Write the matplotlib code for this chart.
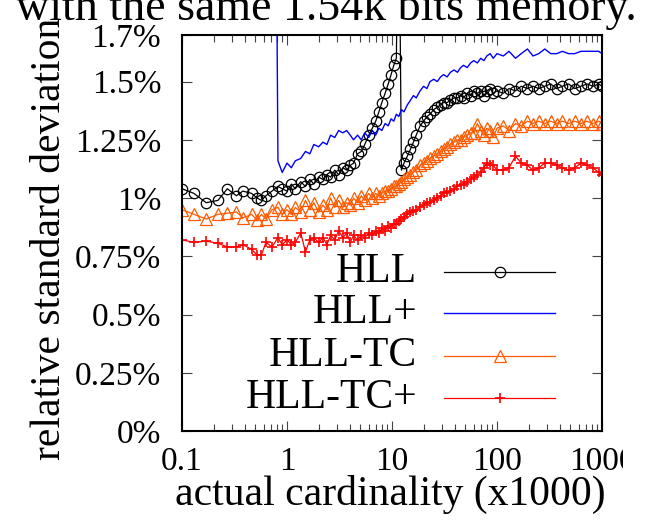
import matplotlib
matplotlib.use("Agg")
import matplotlib.pyplot as plt
from matplotlib.transforms import Bbox, TransformedBbox

plt.rcParams["font.family"] = ["Liberation Serif", "DejaVu Serif"]

# actual cardinality, in thousands
cardinality = [
    0.10, 0.13, 0.17, 0.22, 0.27, 0.33, 0.38, 0.46, 0.52, 0.57, 0.63, 0.72, 0.82, 0.90,
    1.0, 1.1, 1.2, 1.35, 1.5, 1.65, 1.8, 2.0, 2.2, 2.4, 2.6, 2.85, 3.1, 3.4, 3.7,
    4.0, 4.3, 4.7, 5.1, 5.5, 6.0, 6.5, 7.0, 7.5, 8.0, 8.6, 9.2, 9.8, 10.4, 11.0,
    11.6, 12.3, 13, 14, 15, 16, 17, 18.5, 20, 21.5, 23, 25, 27, 29, 31, 33.5, 36,
    39, 42, 45, 48, 52, 56, 60, 65, 70, 75, 80, 86, 92, 100,
    115, 130, 150, 170, 195, 220, 250, 285, 325, 370, 420, 480, 550, 630, 720,
    820, 930, 1000,
]

# relative standard deviation, in percent
hll = [
    1.04, 1.02, 0.98, 0.99, 1.04, 1.01, 1.03, 1.02, 1.00, 0.99, 1.01, 1.03, 1.05, 1.04,
    1.03, 1.06, 1.04, 1.07, 1.05, 1.08, 1.06, 1.09, 1.08, 1.10, 1.09, 1.12, 1.10, 1.13, 1.12,
    1.14, 1.15, 1.19, 1.20, 1.23, 1.27, 1.30, 1.33, 1.37, 1.41, 1.45, 1.49, 1.53, 1.57, 1.60,
    2.40, 1.12, 1.15, 1.18, 1.21, 1.24, 1.27, 1.31, 1.33, 1.35, 1.36, 1.38, 1.39, 1.40, 1.41, 1.41, 1.42,
    1.43, 1.43, 1.44, 1.43, 1.45, 1.44, 1.46, 1.45, 1.46, 1.44, 1.46, 1.47, 1.45, 1.46,
    1.45, 1.47, 1.46, 1.48, 1.47, 1.48, 1.47, 1.48, 1.49, 1.47, 1.48, 1.49, 1.47, 1.48, 1.49,
    1.48, 1.49, 1.48,
]

hll_plus = [
    9.8, 9.1, 8.6, 8.0, 7.5, 7.1, 6.6, 6.2, 5.8, 5.5, 5.1, 4.8, 1.16, 1.11,
    1.15, 1.13, 1.16, 1.17, 1.20, 1.19, 1.23, 1.22, 1.24, 1.23, 1.27, 1.26, 1.29, 1.28, 1.29,
    1.27, 1.25, 1.27, 1.25, 1.28, 1.26, 1.29, 1.27, 1.30, 1.29, 1.32, 1.31, 1.34, 1.33, 1.36,
    1.35, 1.38, 1.37, 1.40, 1.42, 1.44, 1.43, 1.46, 1.48, 1.47, 1.50, 1.51, 1.50, 1.52, 1.53, 1.52, 1.54,
    1.55, 1.54, 1.56, 1.57, 1.56, 1.58, 1.59, 1.58, 1.60, 1.59, 1.61, 1.62, 1.60, 1.62,
    1.61, 1.63, 1.60, 1.62, 1.64, 1.61, 1.62, 1.64, 1.62, 1.62, 1.63, 1.62, 1.62, 1.63, 1.63,
    1.63, 1.63, 1.62,
]

hll_tc = [
    0.95, 0.93, 0.91, 0.93, 0.935, 0.94, 0.915, 0.93, 0.905, 0.93, 0.91, 0.95, 0.96, 0.93,
    0.95, 0.93, 0.96, 0.94, 0.99, 0.95, 0.98, 0.94, 0.97, 0.95, 1.00, 0.96, 0.99, 0.96, 0.98,
    0.97, 1.00, 0.98, 1.01, 0.99, 1.02, 1.00, 1.02, 1.01, 1.02, 1.03, 1.03, 1.04, 1.05, 1.05,
    1.06, 1.07, 1.08, 1.09, 1.10, 1.11, 1.12, 1.14, 1.15, 1.16, 1.17, 1.18, 1.19, 1.20, 1.21, 1.22, 1.23,
    1.24, 1.25, 1.25, 1.26, 1.27, 1.28, 1.28, 1.32, 1.29, 1.27, 1.30, 1.29, 1.26, 1.30,
    1.31, 1.29, 1.32, 1.31, 1.33, 1.32, 1.33, 1.32, 1.33, 1.32, 1.33, 1.32, 1.33, 1.32, 1.33,
    1.32, 1.33, 1.32,
]

hll_tc_plus = [
    0.82, 0.81, 0.815, 0.806, 0.79, 0.79, 0.80, 0.78, 0.755, 0.755, 0.81, 0.79, 0.83, 0.80,
    0.82, 0.80, 0.81, 0.85, 0.77, 0.82, 0.83, 0.81, 0.83, 0.80, 0.84, 0.82, 0.86, 0.83, 0.85,
    0.81, 0.84, 0.82, 0.84, 0.83, 0.85, 0.84, 0.86, 0.85, 0.87, 0.86, 0.88, 0.87, 0.89, 0.89,
    0.90, 0.91, 0.92, 0.93, 0.94, 0.945, 0.95, 0.96, 0.97, 0.98, 0.985, 0.99, 1.00, 1.01, 1.02, 1.025, 1.03,
    1.04, 1.05, 1.055, 1.06, 1.07, 1.08, 1.09, 1.10, 1.11, 1.13, 1.15, 1.14, 1.14, 1.12,
    1.12, 1.13, 1.18, 1.15, 1.14, 1.12, 1.13, 1.15, 1.15, 1.14, 1.13, 1.12, 1.13, 1.15, 1.14,
    1.13, 1.11, 1.10,
]

series_names = ["HLL", "HLL+", "HLL-TC", "HLL-TC+"]
x_ticks = [0.1, 1, 10, 100, 1000]
x_tick_labels = ["0.1", "1", "10", "100", "1000"]
y_ticks = [0, 0.25, 0.5, 0.75, 1, 1.25, 1.5, 1.7]
y_tick_labels = ["0%", "0.25%", "0.5%", "0.75%", "1%", "1.25%", "1.5%", "1.7%"]

styles = [
    dict(color="black", marker="o", ms=7.5, mfc="none", mew=0.9, lw=0.9),
    dict(color="#0000ff", marker=None, lw=1.0),
    dict(color="#ff5a00", marker="^", ms=8.0, mfc="none", mew=0.9, lw=0.9),
    dict(color="#ff0000", marker="+", ms=7.5, mew=1.2, lw=0.9),
]

W, H = 647, 523
fig = plt.figure(figsize=(W / 100, H / 100), dpi=100)
ax = fig.add_axes([182 / W, (H - 431) / H, 420 / W, 396 / H])

series = [hll, hll_plus, hll_tc, hll_tc_plus]
for values, st in zip(series, styles):
    ax.plot(cardinality, values, **st)

ax.set_xscale("log")
ax.set_xlim(0.1, 1000)
ax.set_ylim(0, 1.7)
ax.set_xticks(x_ticks)
ax.set_xticklabels(x_tick_labels)
ax.set_yticks(y_ticks)
ax.set_yticklabels(y_tick_labels)

for s in ax.spines.values():
    s.set_linewidth(1.5)
ax.tick_params(which="both", direction="in", top=True, right=True, color="#444444")
ax.tick_params(which="major", length=7, width=0.8, labelsize=24)
ax.tick_params(which="minor", length=5, width=0.8)
ax.tick_params(axis="y", pad=15)
ax.tick_params(axis="x", pad=11)

ax.set_xlabel("actual cardinality (x1000)", fontsize=30)
ax.set_ylabel("relative standard deviation", fontsize=30)
ax.xaxis.set_label_coords(0.495, -0.11)
ax.yaxis.set_label_coords(-0.268, 0.485)

# legend: right-aligned names with line samples on the right
row_y = [0.4015, 0.298, 0.189, 0.083]
for name, st, yy in zip(series_names, styles, row_y):
    ax.text(0.5595, yy, name, transform=ax.transAxes, ha="right", va="center",
            fontsize=30)
    line_st = {k: v for k, v in st.items() if k not in ("marker", "ms", "mfc", "mew")}
    ax.plot([0.624, 0.888], [yy, yy], transform=ax.transAxes, **line_st)
    if st.get("marker"):
        mk = {k: v for k, v in st.items() if k != "lw"}
        ax.plot([0.757], [yy], transform=ax.transAxes, ls="none", **mk)

# last x label runs past the canvas edge
fig.canvas.draw()
clip = TransformedBbox(Bbox.from_extents(0, 0, 6.23, H / 100), fig.dpi_scale_trans)
for lbl in ax.get_xticklabels():
    if lbl.get_text() == "1000":
        lbl.set_clip_box(clip)
        lbl.set_clip_on(True)

fig.text(326 / W, 1 - 20 / H, "with the same 1.54k bits memory.", ha="center",
         va="baseline", fontsize=33)

fig.savefig("out.png", dpi=100)
